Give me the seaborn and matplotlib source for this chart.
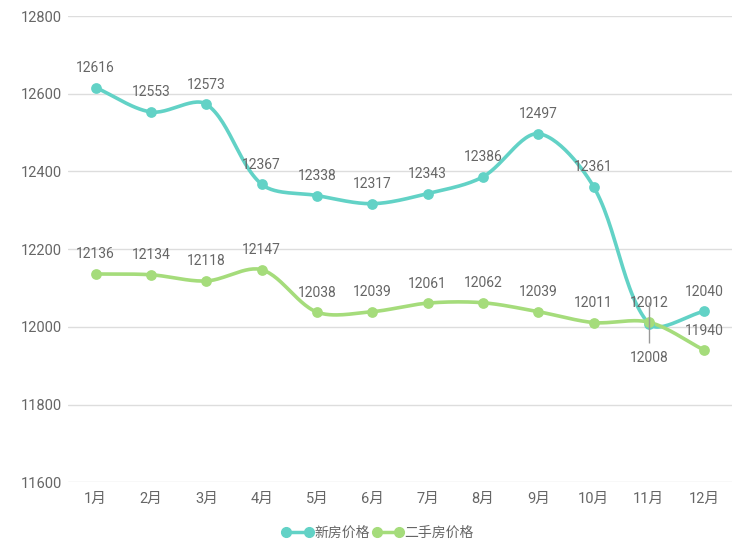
import matplotlib
matplotlib.use("Agg")
import matplotlib.pyplot as plt
from matplotlib.lines import Line2D
import numpy as np
import seaborn as sns

months = ["1月", "2月", "3月", "4月", "5月", "6月", "7月", "8月", "9月", "10月", "11月", "12月"]
new_price = [12616, 12553, 12573, 12367, 12338, 12317, 12343, 12386, 12497, 12361, 12008, 12040]
second_price = [12136, 12134, 12118, 12147, 12038, 12039, 12061, 12062, 12039, 12011, 12012, 11940]
series_names = ["新房价格", "二手房价格"]
y_ticks = [11600, 11800, 12000, 12200, 12400, 12600, 12800]

teal = "#62d2c6"
green = "#a5dc7b"
text_gray = "#666666"

sns.set_style("white")
plt.rcParams["font.family"] = ["Roboto", "Noto Sans CJK SC", "DejaVu Sans"]


def smooth_curve(ax, xs, ys, smooth=0.32, steps=30):
    # bezier smoothing weighted by segment length, in pixel space
    pts = ax.transData.transform(np.column_stack([xs, ys]))
    n = len(pts)
    cps = []
    for i in range(n):
        p = pts[i]
        prev = pts[max(i - 1, 0)]
        nxt = pts[min(i + 1, n - 1)]
        v = (nxt - prev) * smooth
        d0 = np.hypot(*(p - prev))
        d1 = np.hypot(*(nxt - p))
        tot = d0 + d1
        cps.append((p - v * d0 / tot, p + v * d1 / tot))
    out = [pts[0]]
    t = np.linspace(0, 1, steps)[1:, None]
    for i in range(n - 1):
        p0, p3 = pts[i], pts[i + 1]
        c1, c2 = cps[i][1], cps[i + 1][0]
        seg = (1 - t) ** 3 * p0 + 3 * (1 - t) ** 2 * t * c1 + 3 * (1 - t) * t ** 2 * c2 + t ** 3 * p3
        out.extend(seg)
    out = ax.transData.inverted().transform(np.array(out))
    return out[:, 0], out[:, 1]


fig, ax = plt.subplots(figsize=(7.56, 5.53), dpi=100)
fig.subplots_adjust(left=0.09, right=0.968, top=0.971, bottom=0.128)

x = np.arange(len(months))
ax.set_xlim(-0.5, len(months) - 0.5)
ax.set_ylim(11600, 12800)
ax.set_yticks(y_ticks)
ax.set_xticks(x)
ax.set_xticklabels(months)

ax.grid(axis="y", color="#dddddd", linewidth=1)
ax.grid(axis="x", visible=False)
sns.despine(ax=ax, left=True, bottom=True, top=True, right=True)
ax.tick_params(axis="both", length=0, labelsize=10.5, colors=text_gray)
ax.tick_params(axis="y", pad=4.5)
ax.tick_params(axis="x", pad=7)

for vals, col in [(new_price, teal), (second_price, green)]:
    cx, cy = smooth_curve(ax, x, vals)
    sns.lineplot(x=cx, y=cy, ax=ax, sort=False, estimator=None, color=col, linewidth=2.6)
    sns.scatterplot(x=x, y=vals, ax=ax, color=col, s=60, edgecolor=col, linewidth=0, zorder=3)

# value labels
for i, v in enumerate(new_price):
    if i == 10:
        ax.vlines(x[i], v - 50, v + 55, color="#999999", linewidth=1, zorder=4)
        ax.annotate(str(v), (x[i], v), xytext=(0, -20), textcoords="offset points",
                    ha="center", va="top", fontsize=10, color=text_gray)
    else:
        ax.annotate(str(v), (x[i], v), xytext=(0, 9), textcoords="offset points",
                    ha="center", va="bottom", fontsize=10, color=text_gray)
for i, v in enumerate(second_price):
    ax.annotate(str(v), (x[i], v), xytext=(0, 9), textcoords="offset points",
                ha="center", va="bottom", fontsize=10, color=text_gray)

handles = [Line2D([0], [0], color=teal, lw=2.5, marker="o", markersize=7),
           Line2D([0], [0], color=green, lw=2.5, marker="o", markersize=7)]
leg = fig.legend(handles, series_names, loc="center", bbox_to_anchor=(0.5, 0.037), ncol=2,
                 frameon=False, numpoints=2, handlelength=2.2, handletextpad=0.1,
                 columnspacing=0.2, fontsize=10)
for t in leg.get_texts():
    t.set_color(text_gray)

fig.savefig("out.png", dpi=100)
